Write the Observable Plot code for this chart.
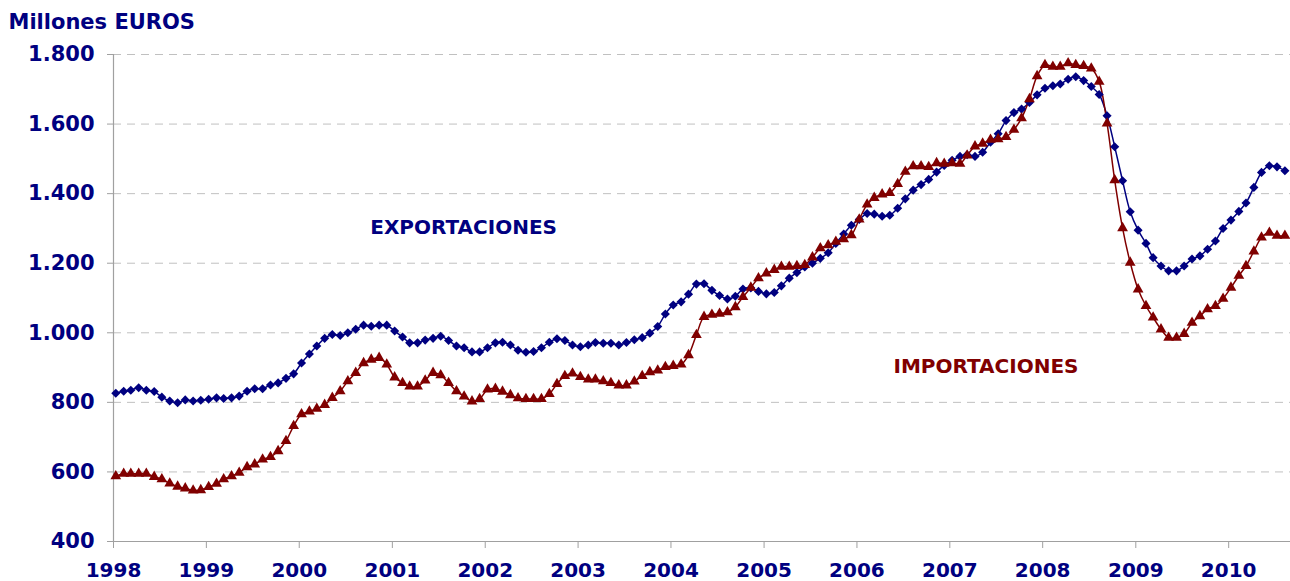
<!DOCTYPE html>
<html><head><meta charset="utf-8">
<script src="https://cdn.jsdelivr.net/npm/d3@7"></script>
<script src="https://cdn.jsdelivr.net/npm/@observablehq/plot@0.6"></script>
<style>body{margin:0;background:#fff} svg{display:block}</style>
</head><body><div id="chart"></div>
<script>
const startYear = 1998;
const exportaciones = [
  826, 832, 835, 842, 835, 831, 815, 804, 799, 807, 804, 806,
  809, 813, 811, 813, 818, 832, 839, 839, 850, 856, 869, 882,
  913, 939, 962, 984, 995, 992, 1000, 1010, 1022, 1019, 1022, 1022,
  1005, 988, 971, 971, 979, 984, 990, 978, 962, 957, 945, 945,
  957, 971, 973, 965, 950, 944, 946, 957, 973, 983, 978, 965,
  960, 965, 972, 970, 970, 965, 972, 980, 986, 999, 1018, 1054,
  1080, 1089, 1111, 1140, 1141, 1122, 1107, 1097, 1105, 1126, 1129, 1119,
  1112, 1116, 1135, 1157, 1173, 1189, 1200, 1214, 1230, 1257, 1284, 1309,
  1326, 1343, 1341, 1335, 1338, 1358, 1385, 1410, 1426, 1441, 1462, 1481,
  1496, 1507, 1512, 1507, 1519, 1548, 1572, 1610, 1633, 1643, 1662, 1684,
  1703, 1710, 1715, 1729, 1736, 1725, 1708, 1685, 1624, 1535, 1437, 1348,
  1295, 1257, 1216, 1192, 1178, 1178, 1192, 1212, 1221, 1240, 1264, 1300,
  1324, 1349, 1373, 1418, 1461, 1480, 1477, 1466
];
const importaciones = [
  588, 595, 595, 595, 595, 586, 579, 567, 558, 553, 547, 548,
  557, 566, 579, 588, 598, 614, 622, 636, 643, 660, 689, 732,
  766, 774, 782, 793, 813, 832, 861, 885, 913, 923, 928, 909,
  872, 856, 846, 846, 863, 885, 878, 856, 832, 817, 803, 810,
  837, 839, 831, 821, 812, 810, 810, 810, 824, 853, 876, 883,
  873, 866, 866, 861, 856, 849, 849, 860, 876, 887, 892, 902,
  905, 909, 936, 994, 1046, 1052, 1055, 1059, 1074, 1103, 1130, 1157,
  1171, 1181, 1190, 1190, 1192, 1195, 1217, 1243, 1252, 1262, 1269, 1281,
  1326, 1369, 1388, 1398, 1402, 1428, 1463, 1479, 1479, 1477, 1488, 1486,
  1488, 1486, 1510, 1536, 1544, 1555, 1557, 1563, 1584, 1617, 1672, 1738,
  1770, 1765, 1765, 1775, 1770, 1767, 1760, 1722, 1602, 1439, 1301, 1202,
  1125, 1077, 1044, 1010, 986, 986, 997, 1029, 1048, 1068, 1077, 1098,
  1130, 1164, 1192, 1234, 1274, 1288, 1279, 1279
];
const yearTicks = d3.range(1998, 2011);
const yTicks = [400, 600, 800, 1000, 1200, 1400, 1600, 1800];
const titulo = "Millones EUROS";

const NAVY = "#000080", MAROON = "#800000";
const FONT = "DejaVu Sans, Verdana, sans-serif";

const monthDate = i => new Date(Date.UTC(startYear, i, 10));
const exp = exportaciones.map((v, i) => ({date: monthDate(i), value: v}));
const imp = importaciones.map((v, i) => ({date: monthDate(i), value: v}));
const yearDates = yearTicks.map(y => new Date(Date.UTC(y, 0, 1)));
const fmtES = d => d3.format(",")(d).replace(/,/g, ".");

const chart = Plot.plot({
  width: 1290,
  height: 581,
  marginLeft: 113,
  marginRight: 0,
  marginTop: 54,
  marginBottom: 40,
  style: {fontFamily: FONT, fontSize: "20px", fontWeight: "bold", background: "#fff", overflow: "visible"},
  x: {type: "utc", domain: [new Date(Date.UTC(1998, 0, 1)), new Date(Date.UTC(2010, 8, 1))]},
  y: {domain: [400, 1800]},
  marks: [
    Plot.gridY(yTicks.filter(d => d > 400), {stroke: "#c0c0c0", strokeOpacity: 1, strokeDasharray: "8,6", strokeWidth: 1}),
    Plot.ruleX([yearDates[0]], {stroke: "#a0a0a0", strokeWidth: 1.2}),
    Plot.ruleY([400], {stroke: "#a0a0a0", strokeWidth: 1.2}),
    Plot.axisY(yTicks, {tickSize: 6, tickPadding: 13, stroke: "#a0a0a0", fill: NAVY, tickFormat: fmtES, label: null, fontSize: 21, fontWeight: "bold"}),
    Plot.axisX(yearDates, {tickSize: 7, tickPadding: 14, stroke: "#a0a0a0", fill: NAVY, tickFormat: d => String(d.getUTCFullYear()), label: null, fontSize: 20, fontWeight: "bold"}),
    Plot.line(exp, {x: "date", y: "value", stroke: NAVY, strokeWidth: 1.5, curve: "catmull-rom"}),
    Plot.line(imp, {x: "date", y: "value", stroke: MAROON, strokeWidth: 1.5, curve: "catmull-rom"}),
    Plot.dot(exp, {x: "date", y: "value", symbol: "diamond2", r: 4.1, fill: NAVY, stroke: "none"}),
    Plot.dot(imp, {x: "date", y: "value", symbol: "triangle", r: 4.0, fill: MAROON, stroke: "none"}),
    Plot.text(["EXPORTACIONES"], {x: () => new Date(Date.UTC(2001, 9, 8)), y: () => 1302, text: d => d, fill: NAVY, fontSize: 20, fontWeight: "bold"}),
    Plot.text(["IMPORTACIONES"], {x: () => new Date(Date.UTC(2007, 4, 23)), y: () => 902, text: d => d, fill: MAROON, fontSize: 20, fontWeight: "bold"}),
    Plot.text([titulo], {frameAnchor: "top-left", lineAnchor: "middle", dx: -105, dy: -32, text: d => d, fill: NAVY, fontSize: 21, fontWeight: "bold", textAnchor: "start"})
  ]
});
document.getElementById("chart").append(chart);
</script>
</body></html>
